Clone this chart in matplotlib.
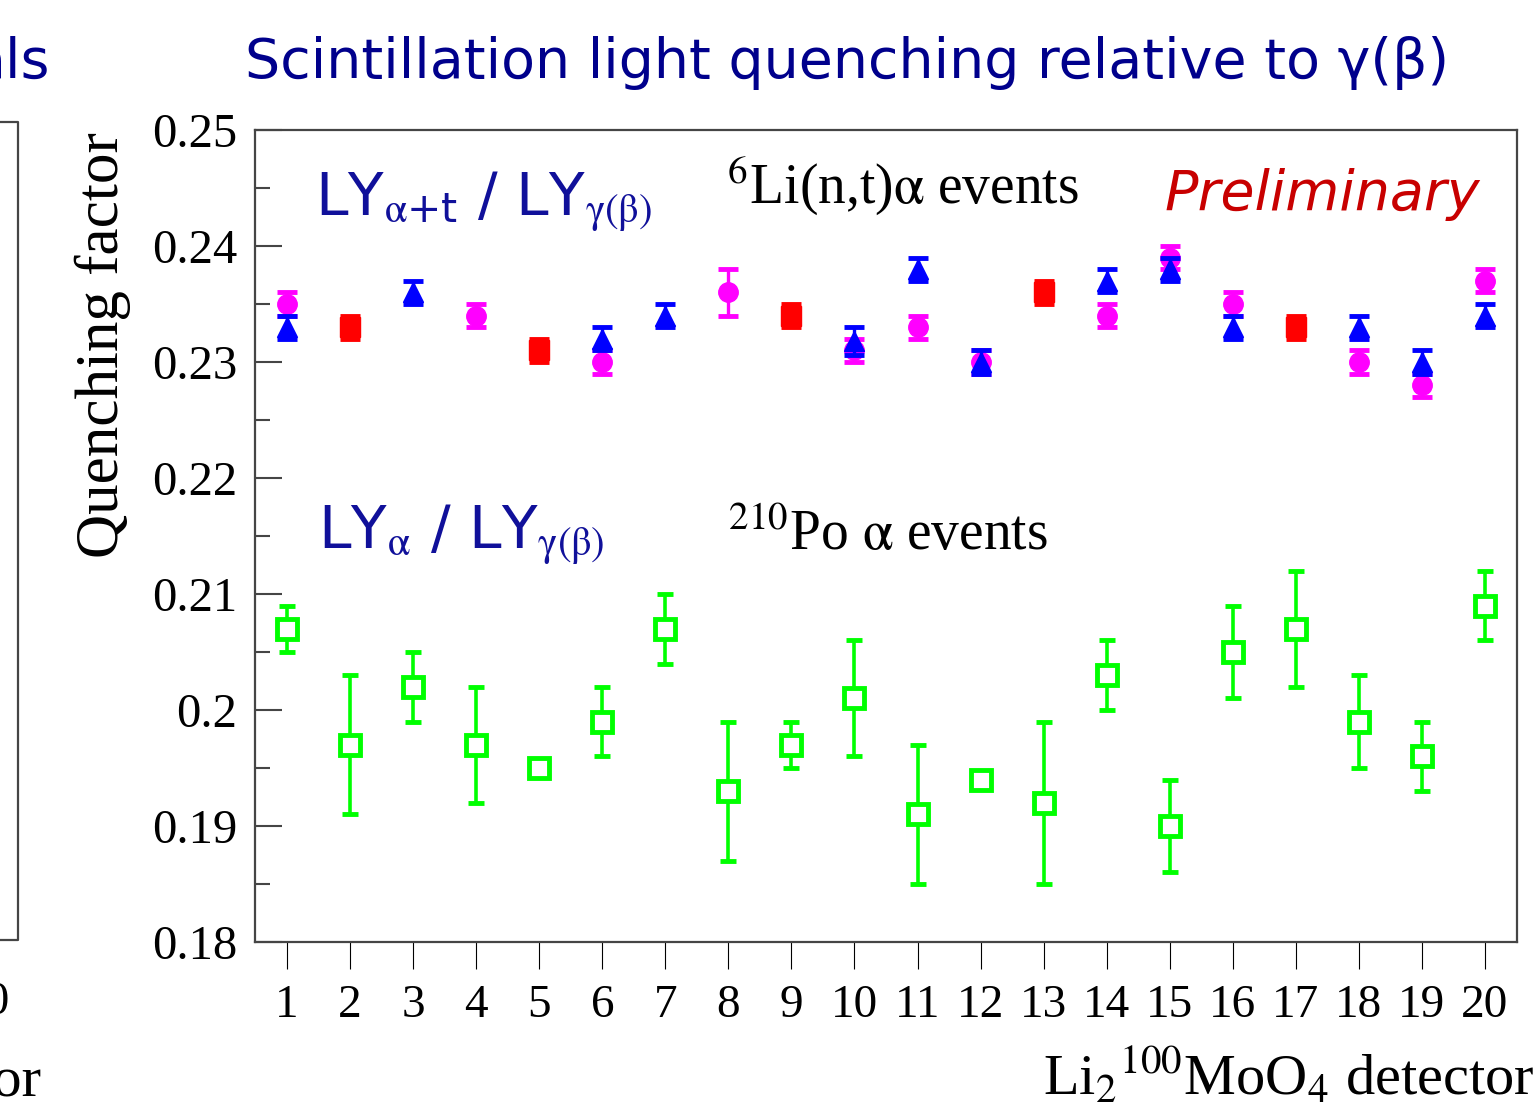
import matplotlib
matplotlib.use("Agg")
import matplotlib.pyplot as plt
from matplotlib.lines import Line2D

# detector numbers and tick labels
detectors = list(range(1, 21))
x_ticklabels = [str(d) for d in detectors]
y_ticks = [0.18, 0.19, 0.20, 0.21, 0.22, 0.23, 0.24, 0.25]
y_ticklabels = ["0.18", "0.19", "0.2", "0.21", "0.22", "0.23", "0.24", "0.25"]

# 6Li(n,t)alpha events, three groups of detectors
mag_det = [1, 4, 6, 8, 10, 11, 12, 14, 15, 16, 18, 19, 20]
mag_val = [0.235, 0.234, 0.230, 0.236, 0.231, 0.233, 0.230, 0.234, 0.239, 0.235, 0.230, 0.228, 0.237]
mag_err = [0.001, 0.001, 0.001, 0.002, 0.001, 0.001, 0.001, 0.001, 0.001, 0.001, 0.001, 0.001, 0.001]

blue_det = [1, 3, 6, 7, 10, 11, 12, 14, 15, 16, 18, 19, 20]
blue_val = [0.233, 0.236, 0.232, 0.234, 0.2318, 0.238, 0.230, 0.237, 0.238, 0.233, 0.233, 0.230, 0.234]
blue_err = [0.001, 0.001, 0.001, 0.001, 0.0012, 0.001, 0.001, 0.001, 0.001, 0.001, 0.001, 0.001, 0.001]

red_det = [2, 5, 9, 13, 17]
red_val = [0.233, 0.231, 0.234, 0.236, 0.233]
red_err = [0.001, 0.001, 0.001, 0.001, 0.001]

# 210Po alpha events, all detectors
po_val = [0.207, 0.197, 0.202, 0.197, 0.195, 0.199, 0.207, 0.193, 0.197, 0.201,
          0.191, 0.194, 0.192, 0.203, 0.190, 0.205, 0.207, 0.199, 0.196, 0.209]
po_err = [0.002, 0.006, 0.003, 0.005, 0.0006, 0.003, 0.003, 0.006, 0.002, 0.005,
          0.006, 0.0006, 0.007, 0.003, 0.004, 0.004, 0.005, 0.004, 0.003, 0.003]

W, H = 1539, 1112
SERIF = "Liberation Serif"
SANS = "DejaVu Sans"
NAVY = "#00008c"
FRAME = "#454545"


def fx(px):
    return px / W


def fy(py):
    return 1 - py / H


fig = plt.figure(figsize=(W / 100, H / 100), dpi=100)
ax = fig.add_axes([fx(255), fy(942), fx(1517) - fx(255), fy(130) - fy(942)])

ax.errorbar(mag_det, mag_val, yerr=mag_err, fmt="o", color="#ff00ff", ms=14,
            elinewidth=2.4, capsize=7, capthick=3.5, zorder=3)
ax.errorbar(red_det, red_val, yerr=red_err, fmt="s", color="#ff0000", ms=14,
            elinewidth=2.4, capsize=7, capthick=3.5, zorder=3)
ax.errorbar(blue_det, blue_val, yerr=blue_err, fmt="^", color="#0000ff", ms=14.5,
            elinewidth=2.4, capsize=7, capthick=3.5, zorder=4)
ax.errorbar(detectors, po_val, yerr=po_err, fmt="s", color="#00ff00", mfc="white",
            mec="#00ff00", mew=3.5, ms=14, elinewidth=2.6, capsize=6, capthick=3.2,
            zorder=3)

ax.set_xlim(0.49, 20.51)
ax.set_ylim(0.18, 0.25)

ax.set_xticks(detectors)
ax.set_xticklabels(x_ticklabels, family=SERIF, fontsize=34)
ax.tick_params(axis="x", direction="out", length=19.5, width=0.8, color="black",
               pad=11, top=False)
ax.set_yticks(y_ticks)
ax.set_yticklabels(y_ticklabels, family=SERIF, fontsize=35)
ax.set_yticks([0.185, 0.195, 0.205, 0.215, 0.225, 0.235, 0.245], minor=True)
ax.tick_params(axis="y", which="major", direction="in", length=19.5, width=1.5,
               color=FRAME, pad=13, right=False)
ax.tick_params(axis="y", which="minor", direction="in", length=11, width=1.5,
               color=FRAME, right=False)
for s in ax.spines.values():
    s.set_color(FRAME)
    s.set_linewidth(1.6)

# labels inside the frame
ax.text(0.0475, 0.8953, r"LY$_{\mathrm{\alpha}\mathregular{+t}}$ / LY$_{\mathrm{\gamma(\beta)}}$",
        transform=ax.transAxes, family=SANS, fontsize=42, color="#10109a",
        math_fontfamily="stix", va="baseline", ha="left")
ax.text(0.374, 0.910, r"$^{6}$Li(n,t)$\mathrm{\alpha}$ events", transform=ax.transAxes,
        family=SERIF, fontsize=40, color="black", math_fontfamily="stix",
        va="baseline", ha="left")
ax.text(0.721, 0.9015, "Preliminary", transform=ax.transAxes, family=SANS,
        style="italic", fontsize=40, color="#c80000", va="baseline", ha="left")
ax.text(0.050, 0.485, r"LY$_{\mathrm{\alpha}}$ / LY$_{\mathrm{\gamma(\beta)}}$",
        transform=ax.transAxes, family=SANS, fontsize=42, color="#10109a",
        math_fontfamily="stix", va="baseline", ha="left")
ax.text(0.375, 0.483, r"$^{210}$Po $\mathrm{\alpha}$ events", transform=ax.transAxes,
        family=SERIF, fontsize=40, color="black", math_fontfamily="stix",
        va="baseline", ha="left")

# axis titles and heading
fig.text(fx(103), fy(345), "Quenching factor", rotation=90, family=SERIF,
         fontsize=44, ha="center", va="center")
fig.text(fx(1535), fy(1095), r"Li$_2$$^{100}$MoO$_4$ detector", family=SERIF,
         fontsize=42, math_fontfamily="stix", ha="right", va="baseline")
fig.text(fx(245), fy(78), "Scintillation light quenching relative to γ(β)",
         family=SANS, fontsize=40, color=NAVY, ha="left", va="baseline")

# edge of the neighbouring panel
fig.text(fx(50), fy(78), "als", family=SANS, fontsize=40, color=NAVY,
         ha="right", va="baseline")
fig.text(fx(10), fy(1003), "20", family=SERIF, fontsize=34, ha="right", va="center")
fig.text(fx(42), fy(1095), "detector", family=SERIF, fontsize=42, ha="right",
         va="baseline")
fig.add_artist(Line2D([0, fx(18), fx(18), 0], [fy(122), fy(122), fy(940), fy(940)],
                      color=FRAME, lw=1.6))

fig.savefig("out.png", dpi=100)
